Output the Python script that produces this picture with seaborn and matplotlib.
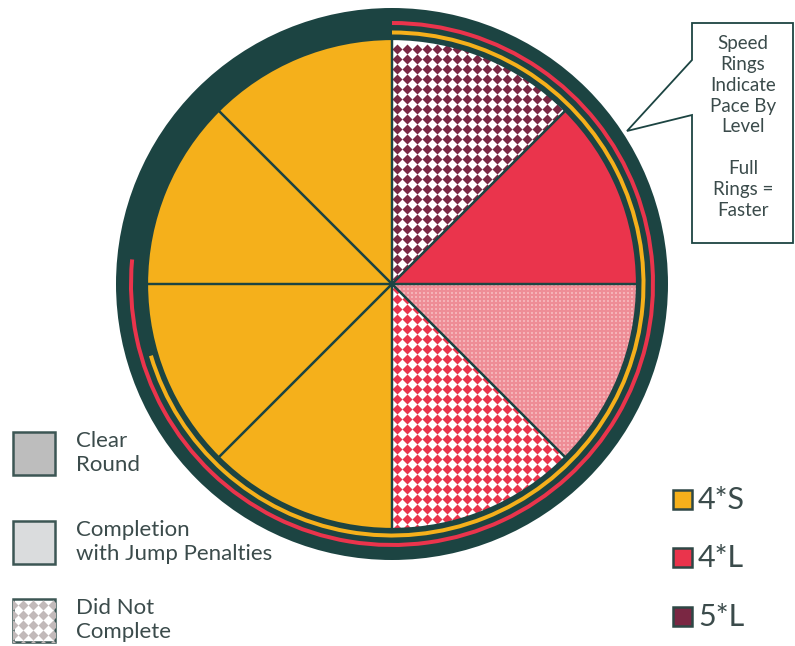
import numpy as np
import matplotlib
matplotlib.use("Agg")
import matplotlib.pyplot as plt
import seaborn as sns
from matplotlib.patches import Circle, Wedge, Rectangle, Polygon

# slices of the wheel, clockwise from 12 o'clock
levels = ['5*L', '4*L', '4*L', '4*L', '4*S', '4*S', '4*S', '4*S']
outcomes = ['Did Not Complete', 'Clear Round', 'Completion with Jump Penalties',
            'Did Not Complete', 'Clear Round', 'Clear Round', 'Clear Round', 'Clear Round']
shares = [1, 1, 1, 1, 1, 1, 1, 1]

# speed rings (percent of a full ring)
ring_levels = ['4*L', '4*S', '5*L']
ring_pct = [76.5, 70.4, 0.0]

outcome_names = ['Clear Round', 'Completion with Jump Penalties', 'Did Not Complete']
outcome_labels = ['Clear\nRound', 'Completion\nwith Jump Penalties', 'Did Not\nComplete']
level_names = ['4*S', '4*L', '5*L']

callout_text = 'Speed\nRings\nIndicate\nPace By\nLevel\n\nFull\nRings =\nFaster'

W, H = 795, 646
DARK = '#1c4442'
TEXT = '#3b4b4b'
level_colors = dict(zip(level_names, ['#f5b01b', '#ea344c', '#7a2743']))
pink = '#ee8d96'

sns.set_theme(style='white')
plt.rcParams['font.family'] = ['Lato', 'DejaVu Sans']


def Y(y):
    return H - y


def diamond_fill(ax, clip, x0, x1, y0, y1, color, step=10.0, s=26, z=4):
    gx, gy = np.meshgrid(np.arange(x0, x1, step), np.arange(y0, y1, step))
    sc = ax.scatter(gx.ravel(), gy.ravel(), marker='D', s=s, color=color,
                    linewidths=0, zorder=z)
    sc.set_clip_path(clip)


fig = plt.figure(figsize=(W / 100, H / 100), dpi=100)
ax = fig.add_axes([0, 0, 1, 1])

cx, cy = 392, Y(284)
R_out, R_pie = 276, 245

ax.add_patch(Circle((cx, cy), R_out, facecolor=DARK, edgecolor='none', zorder=1))

# speed rings
ring_r = {'4*L': 263, '4*S': 253.5}
for lvl, pct in zip(ring_levels, ring_pct):
    if pct <= 0:
        continue
    ax.add_patch(Wedge((cx, cy), ring_r[lvl], 90 - 360 * pct / 100, 90, width=4,
                       facecolor=level_colors[lvl], edgecolor='none', zorder=2))

# pie fills
fills = []
for lvl, out in zip(levels, outcomes):
    if out == 'Clear Round':
        fills.append(level_colors[lvl])
    elif out == 'Completion with Jump Penalties':
        fills.append(pink)
    else:
        fills.append('white')

wedges, _ = ax.pie(shares, colors=fills, startangle=90, counterclock=False,
                   radius=R_pie, center=(cx, cy),
                   wedgeprops=dict(linewidth=0, edgecolor='none'))
for w in wedges:
    w.set_zorder(3)

for w, lvl, out in zip(wedges, levels, outcomes):
    if out == 'Did Not Complete':
        diamond_fill(ax, w, cx - R_pie, cx + R_pie, cy - R_pie, cy + R_pie,
                     level_colors[lvl])
    elif out == 'Completion with Jump Penalties':
        gx, gy = np.meshgrid(np.arange(cx, cx + R_pie, 4.0), np.arange(cy - R_pie, cy, 4.0))
        sc = ax.scatter(gx.ravel(), gy.ravel(), marker='s', s=1.0, color='#f5b3b8',
                        linewidths=0, zorder=4)
        sc.set_clip_path(w)

# slice edges on top
edges, _ = ax.pie(shares, startangle=90, counterclock=False, radius=R_pie,
                  center=(cx, cy),
                  wedgeprops=dict(fill=False, linewidth=1.6, edgecolor=DARK))
for e in edges:
    e.set_zorder(5)

# callout box
pts = [(692, 23), (793, 23), (793, 243), (692, 243), (692, 115), (627, 131), (692, 60)]
ax.add_patch(Polygon([(x, Y(y)) for x, y in pts], closed=True, facecolor='white',
                     edgecolor=DARK, linewidth=1.3, zorder=6))
ax.text(743, Y(127), callout_text, ha='center', va='center', fontsize=13.5,
        color=TEXT, linespacing=1.27, zorder=7)

# outcome legend (left)
box_tops = [432, 521, 599]
for top, name, lab in zip(box_tops, outcome_names, outcome_labels):
    face = {'Clear Round': '#bdbdbd',
            'Completion with Jump Penalties': '#dadcdd',
            'Did Not Complete': 'white'}[name]
    rect = Rectangle((13, Y(top + 43)), 42, 43, facecolor=face, edgecolor='#3c5654',
                     linewidth=1.8, zorder=5)
    ax.add_patch(rect)
    if name == 'Did Not Complete':
        diamond_fill(ax, rect, 13, 60, Y(top + 46), Y(top - 3), '#c2baba', z=5.5)
    ax.text(76, Y(top + 21), lab, ha='left', va='center', fontsize=16,
            color=TEXT, linespacing=1.25, zorder=6)

# level legend (right)
lvl_tops = [490, 548, 607]
for top, lvl in zip(lvl_tops, level_names):
    ax.add_patch(Rectangle((673, Y(top + 19)), 19, 19, facecolor=level_colors[lvl],
                           edgecolor='#2e4745', linewidth=1.8, zorder=5))
    ax.text(698, Y(top + 10), lvl, ha='left', va='center', fontsize=22,
            color=TEXT, zorder=6)

ax.set_xlim(0, W)
ax.set_ylim(0, H)
ax.set_aspect('equal')
ax.axis('off')

fig.savefig('out.png', dpi=100, facecolor='white')
